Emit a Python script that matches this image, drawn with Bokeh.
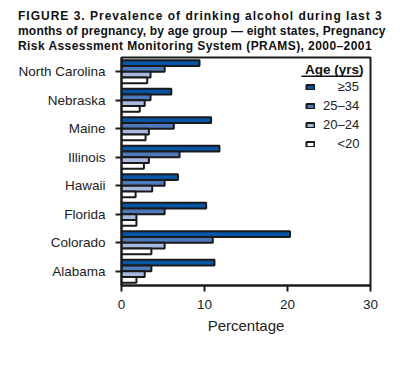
from bokeh.plotting import figure
from bokeh.models import FactorRange, Range1d, Div, Legend, LegendItem, FixedTicker, BoxAnnotation
from bokeh.layouts import column
from bokeh.transform import dodge
from bokeh.embed import file_html
from bokeh.resources import INLINE
from bokeh.models import ColumnDataSource

states = ["North Carolina", "Nebraska", "Maine", "Illinois", "Hawaii", "Florida", "Colorado", "Alabama"]
age_labels = ["\u2007\u2007\u226535", "25\u201334", "20\u201324", "\u2007\u2007<20"]
age_35plus = [9.4, 6.0, 10.8, 11.8, 6.8, 10.2, 20.3, 11.2]
age_25_34 = [5.2, 3.5, 6.3, 7.0, 5.2, 5.2, 11.0, 3.6]
age_20_24 = [3.5, 2.8, 3.3, 3.3, 3.7, 1.8, 5.2, 2.8]
age_lt20 = [3.1, 2.2, 2.9, 2.7, 1.7, 1.8, 3.6, 1.8]
x_ticks = [0, 10, 20, 30]
title_lines = [
    "FIGURE 3. Prevalence of drinking alcohol during last 3",
    "months of pregnancy, by age group \u2014 eight states, Pregnancy",
    "Risk Assessment Monitoring System (PRAMS), 2000\u20132001",
]

colors = ["#0656a8", "#4f79bd", "#a8b9e0", "#ffffff"]
offsets = [0.3, 0.1, -0.1, -0.3]

FONT = "Liberation Sans"

src = ColumnDataSource(dict(state=states, a=age_35plus, b=age_25_34, c=age_20_24, d=age_lt20))

spacings = [1.0, 0.19, 0.43]
lines_html = "".join(
    f'<div style="letter-spacing:{ls}px">{t}</div>' for t, ls in zip(title_lines, spacings)
)
title_html = (
    '<div style="font-family:\'Liberation Sans\',Arial;font-weight:bold;font-size:12px;'
    'line-height:15.3px;color:#111;white-space:nowrap;padding-left:18px;padding-top:8.5px">'
    + lines_html + '</div>'
)
div = Div(text=title_html, width=400, height=52, margin=(0, 0, 0, 0))

p = figure(width=400, height=293, output_backend="svg", toolbar_location=None,
           y_range=FactorRange(*reversed(states)), x_range=Range1d(0, 30),
           min_border_left=121, min_border_right=30, min_border_top=5, min_border_bottom=60,
           margin=(0, 0, 0, 0))

items = []
for col, color, off, lab in zip(["a", "b", "c", "d"], colors, offsets, age_labels):
    r = p.hbar(y=dodge("state", off, range=p.y_range), right=col, left=0, height=0.2, source=src,
               fill_color=color, line_color="#1a1a1a", line_width=2)
    items.append(LegendItem(label=lab, renderers=[r]))

legend = Legend(items=items, location="top_right")
legend.title = "Age (yrs)"
legend.title_text_font = FONT
legend.title_text_font_style = "bold"
legend.title_text_font_size = "13.5px"
legend.title_text_color = "#111111"
legend.title_standoff = 2
legend.label_text_font = FONT
legend.label_text_font_size = "13px"
legend.label_text_color = "#222222"
legend.label_standoff = 8
legend.label_width = 42
legend.glyph_width = 10
legend.glyph_height = 6
legend.label_height = 14
legend.spacing = 4
legend.border_line_color = None
legend.background_fill_alpha = 0
legend.margin = 5
legend.padding = 4
p.add_layout(legend)

# underline of the legend title
underline = BoxAnnotation(left=180, right=240, bottom=208.5, top=210,
                          left_units="screen", right_units="screen",
                          bottom_units="screen", top_units="screen",
                          fill_color="#111111", fill_alpha=1, line_color=None)
p.add_layout(underline)

p.xgrid.visible = False
p.ygrid.visible = False
p.outline_line_color = "#1a1a1a"
p.outline_line_width = 2

p.xaxis.ticker = FixedTicker(ticks=x_ticks)
p.xaxis.axis_label = "Percentage"
p.xaxis.axis_label_text_font = FONT
p.xaxis.axis_label_text_font_style = "normal"
p.xaxis.axis_label_text_font_size = "15px"
p.xaxis.axis_label_text_color = "#222222"
p.xaxis.axis_label_standoff = 5
for ax in (p.xaxis, p.yaxis):
    ax.axis_line_width = 2
    ax.axis_line_color = "#1a1a1a"
    ax.major_tick_line_width = 2
    ax.major_tick_line_color = "#1a1a1a"
    ax.major_tick_out = 6
    ax.major_tick_in = 0
    ax.minor_tick_line_color = None
    ax.major_label_text_font = FONT
    ax.major_label_text_font_size = "13.5px"
    ax.major_label_text_color = "#222222"
p.yaxis.major_label_standoff = 10
p.xaxis.major_label_standoff = 8

layout = column(div, p, spacing=0)
open("out.html", "w").write(file_html(layout, INLINE))
